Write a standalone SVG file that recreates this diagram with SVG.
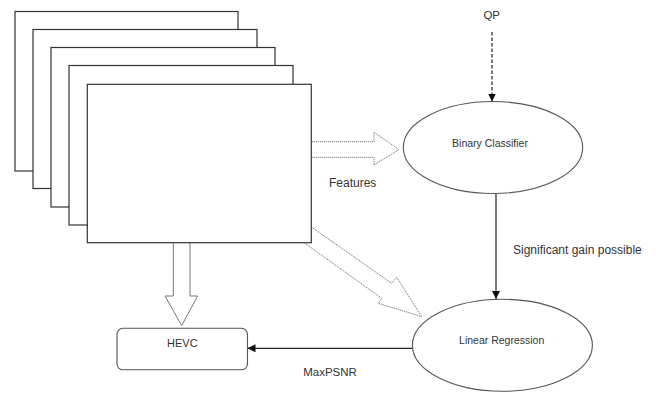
<svg xmlns="http://www.w3.org/2000/svg" width="656" height="394" viewBox="0 0 656 394">
<defs>
<style>
.frame{fill:#fff;stroke:#333;stroke-width:1.2}
.ell{fill:#fff;stroke:#555;stroke-width:1.1}
.blk{fill:#fff;stroke:#777;stroke-width:1}
.dot{fill:#fff;stroke:#777;stroke-width:1;stroke-dasharray:1.2 0.8}
.ln{fill:none;stroke:#222;stroke-width:1.2}
.t{font-family:"Liberation Sans",Arial,sans-serif;fill:#333}
</style>
<marker id="ah" viewBox="0 0 10 10" refX="10" refY="5" markerWidth="8" markerHeight="8" markerUnits="userSpaceOnUse" orient="auto">
<path d="M0,0L10,5L0,10z" fill="#111"/>
</marker>
</defs>
<g id="connectors">
<polygon class="dot" points="300,141.7 374,141.7 374,132.3 399,149.5 374,165 374,157.3 300,157.3"/>
<polygon class="dot" points="300,219 391.7,283.3 396.7,277.3 421.7,316.7 378.3,303.3 381.7,298.3 292,234"/>
<polygon class="blk" points="173.3,235 173.3,296 165,296 181.7,325.5 197.7,296 190,296 190,235"/>
<line class="ln" x1="492" y1="32" x2="492" y2="101.5" stroke-dasharray="3.5 2" marker-end="url(#ah)"/>
<line class="ln" x1="496" y1="193.5" x2="496" y2="299" marker-end="url(#ah)"/>
<line class="ln" x1="412.3" y1="348.3" x2="247.5" y2="348.3" marker-end="url(#ah)"/>
<text class="t" x="329" y="187" font-size="12">Features</text>
<text class="t" x="513" y="254" font-size="12">Significant gain possible</text>
<text class="t" x="330" y="376" font-size="11.5" text-anchor="middle">MaxPSNR</text>
</g>
<g id="frames">
<rect class="frame" x="15" y="11.5" width="223" height="159.5"/>
<rect class="frame" x="33" y="29.5" width="224" height="159"/>
<rect class="frame" x="51" y="47.5" width="224" height="159.5"/>
<rect class="frame" x="69" y="65.5" width="224" height="159.5"/>
<rect class="frame" x="87.3" y="84.3" width="224" height="158.4"/>
</g>
<g id="qp">
<text class="t" x="491.7" y="19" font-size="11.5" text-anchor="middle">QP</text>
</g>
<g id="binary-classifier">
<ellipse class="ell" cx="493" cy="147.5" rx="89.7" ry="46"/>
<text class="t" x="490" y="146.5" font-size="10.5" text-anchor="middle">Binary Classifier</text>
</g>
<g id="linear-regression">
<ellipse class="ell" cx="502.4" cy="345.3" rx="90" ry="46"/>
<text class="t" x="501.7" y="343.7" font-size="10.5" text-anchor="middle">Linear Regression</text>
</g>
<g id="hevc">
<rect class="ell" x="117" y="328.3" width="130.5" height="41.5" rx="6"/>
<text class="t" x="182.3" y="347" font-size="11" text-anchor="middle">HEVC</text>
</g>
</svg>
